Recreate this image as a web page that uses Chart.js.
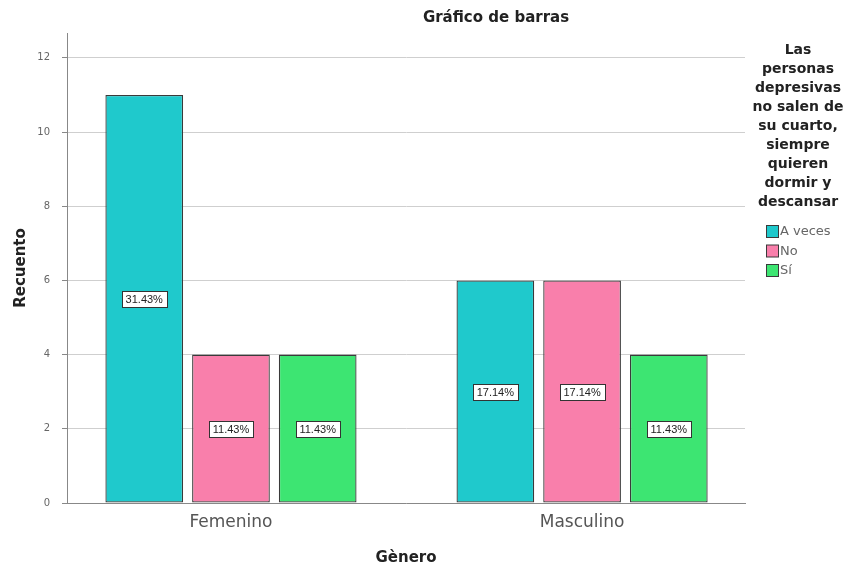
<!DOCTYPE html>
<html>
<head>
<meta charset="utf-8">
<script src="https://cdn.jsdelivr.net/npm/chart.js@4"></script>
<style>
html,body{margin:0;padding:0;background:#fff;}
#wrap{position:relative;width:860px;height:571px;}
</style>
</head>
<body>
<div id="wrap"><canvas id="c" width="860" height="571"></canvas></div>
<script>
const categories = ['Femenino', 'Masculino'];
const seriesNames = ['A veces', 'No', 'Sí'];
const aVeces = [11, 6];
const no = [4, 6];
const si = [4, 4];
const yTicks = [0, 2, 4, 6, 8, 10, 12];
const chartTitle = 'Gráfico de barras';
const legendTitle = ['Las', 'personas', 'depresivas', 'no salen de', 'su cuarto,', 'siempre', 'quieren', 'dormir y', 'descansar'];
const xTitle = 'Gènero';
const yTitle = 'Recuento';

const colors = ['#1fc9cc', '#f97fab', '#3de572'];
const seriesValues = [aVeces, no, si];
const total = seriesValues.flat().reduce((a, b) => a + b, 0);

const datasets = seriesValues.map((vals, i) => ({
  label: seriesNames[i],
  data: vals.map((v, j) => ({ x: j, y: v })),
  backgroundColor: colors[i],
  borderColor: '#3a3a3a',
  borderWidth: 1.3,
  borderSkipped: false,
  categoryPercentage: 0.741,
  barPercentage: 0.896
}));

const extrasPlugin = {
  id: 'extras',
  afterDatasetsDraw(chart) {
    const ctx = chart.ctx;
    ctx.save();
    ctx.font = '11px "Liberation Sans", Arial, sans-serif';
    ctx.textAlign = 'center';
    ctx.textBaseline = 'middle';
    chart.data.datasets.forEach((ds, di) => {
      const meta = chart.getDatasetMeta(di);
      meta.data.forEach((bar, j) => {
        const v = ds.data[j].y;
        const txt = (v / total * 100).toFixed(2) + '%';
        const yc = chart.scales.y.getPixelForValue(v / 2);
        const w = Math.round(ctx.measureText(txt).width + 8);
        const h = 16;
        const x0 = Math.round(bar.x - w / 2) + 0.5;
        const y0 = Math.round(yc - h / 2) + 0.5;
        ctx.fillStyle = '#fff';
        ctx.fillRect(x0, y0, w, h);
        ctx.strokeStyle = '#333';
        ctx.lineWidth = 1;
        ctx.strokeRect(x0, y0, w, h);
        ctx.fillStyle = '#222';
        ctx.fillText(txt, bar.x, yc + 1);
      });
    });
    ctx.restore();
  },
  afterDraw(chart) {
    const ctx = chart.ctx;
    ctx.save();
    ctx.fillStyle = '#222';
    ctx.font = 'bold 15px "DejaVu Sans", Verdana, sans-serif';
    ctx.textAlign = 'center';
    ctx.textBaseline = 'middle';
    ctx.fillText(chartTitle, 496, 18);
    ctx.font = 'bold 14px "DejaVu Sans", Verdana, sans-serif';
    legendTitle.forEach((line, i) => {
      ctx.fillText(line, 798, 50 + i * 19);
    });
    ctx.font = '13px "DejaVu Sans", Tahoma, sans-serif';
    ctx.textAlign = 'left';
    chart.data.datasets.forEach((ds, i) => {
      const y = 232 + i * 19.5;
      ctx.fillStyle = ds.backgroundColor;
      ctx.fillRect(766.5, y - 6.5, 12, 12);
      ctx.strokeStyle = '#3a3a3a';
      ctx.lineWidth = 1;
      ctx.strokeRect(766.5, y - 6.5, 12, 12);
      ctx.fillStyle = '#666';
      ctx.fillText(ds.label, 780, y);
    });
    ctx.restore();
  }
};

new Chart(document.getElementById('c'), {
  type: 'bar',
  data: { datasets },
  plugins: [extrasPlugin],
  options: {
    responsive: false,
    animation: false,
    layout: { padding: { top: 33, right: 115, left: 0, bottom: 0 } },
    plugins: {
      legend: { display: false },
      title: { display: false },
      tooltip: { enabled: false }
    },
    scales: {
      x: {
        type: 'linear',
        offset: false,
        min: -0.467,
        max: 1.464,
        afterFit(scale) { scale.height = 68; },
        afterBuildTicks(scale) { scale.ticks = categories.map((c, i) => ({ value: i })); },
        grid: { display: false, drawTicks: false, offset: false },
        border: { display: true, color: '#888', width: 1 },
        ticks: {
          callback: (v) => categories[v] ?? '',
          color: '#555',
          font: { family: '"DejaVu Sans", Tahoma, sans-serif', size: 17 },
          padding: 9,
          maxRotation: 0,
          autoSkip: false
        },
        title: {
          display: true,
          text: xTitle,
          color: '#222',
          font: { family: '"DejaVu Sans", Verdana, sans-serif', size: 15, weight: 'bold' },
          padding: { top: 10 }
        }
      },
      y: {
        min: 0,
        max: 12.67,
        afterFit(scale) { scale.width = 67; },
        afterBuildTicks(scale) { scale.ticks = yTicks.map(v => ({ value: v })); },
        grid: { color: '#cfcfcf', lineWidth: 1, tickLength: 5, tickColor: '#888' },
        border: { display: true, color: '#888', width: 1 },
        ticks: {
          color: '#666',
          font: { family: '"DejaVu Sans", Tahoma, sans-serif', size: 10 },
          padding: 12
        },
        title: {
          display: true,
          text: yTitle,
          color: '#222',
          font: { family: '"DejaVu Sans", Verdana, sans-serif', size: 15, weight: 'bold' },
          padding: { top: 12, bottom: 0 }
        }
      }
    }
  }
});
</script>
</body>
</html>
